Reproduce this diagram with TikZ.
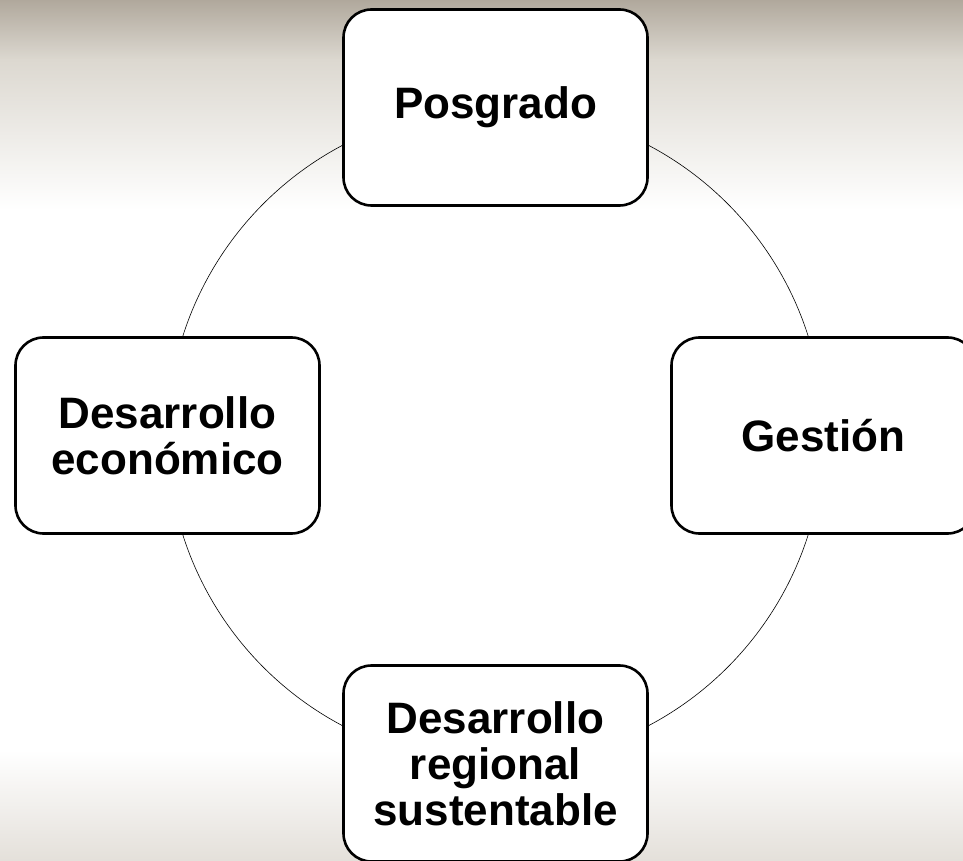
\documentclass[tikz,border=0pt]{standalone}
\usepackage{fontspec}
\setmainfont{Liberation Sans}
\definecolor{bgtop}{RGB}{176,168,156}
\definecolor{bgmid}{RGB}{220,216,208}
\definecolor{bgbot}{RGB}{228,224,218}
\begin{document}
\begin{tikzpicture}[x=1pt,y=1pt,
  boxnode/.style={draw=black, line width=2.6pt, fill=white, rounded corners=28pt,
    minimum width=304pt, minimum height=196pt, inner sep=0pt, align=center,
    font=\fontsize{44}{46}\selectfont\bfseries},
  ring/.style={draw=black, line width=0.6pt}]
\useasboundingbox (0,0) rectangle (963,860);
\clip (0,0) rectangle (963,860);
\fill[white] (0,0) rectangle (963,860);
\shade[top color=bgtop, bottom color=bgmid, draw=none] (0,800) rectangle (963,860.5);
\shade[top color=bgmid, bottom color=white, draw=none] (0,650) rectangle (963,800.2);
\shade[top color=white, bottom color=bgbot, draw=none] (0,-0.5) rectangle (963,110);
\coordinate (c) at (495.5,424.5);
\draw[ring] (c) circle (328pt);
\node[boxnode] (pos) at (495.5,752.5) {Posgrado};
\node[boxnode] (des) at (167.5,424.5) {Desarrollo\\econ\'omico};
\node[boxnode] (ges) at (823.5,424.5) {Gesti\'on};
\node[boxnode] (reg) at (495.5,96.5) {Desarrollo\\regional\\sustentable};
\end{tikzpicture}
\end{document}
